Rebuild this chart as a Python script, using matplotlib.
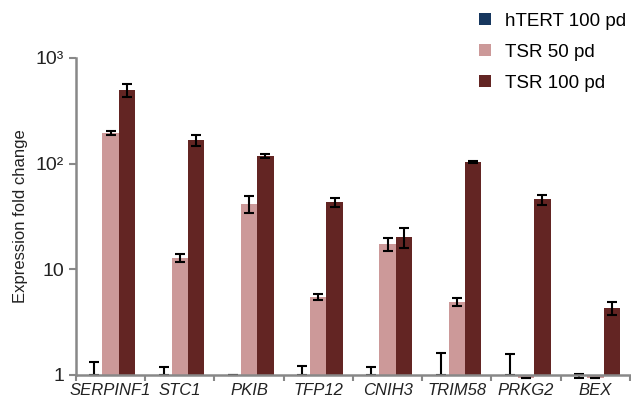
import numpy as np
import matplotlib
matplotlib.use("Agg")
import matplotlib.pyplot as plt
from matplotlib.ticker import FixedLocator, NullLocator, FixedFormatter

plt.rcParams['font.family'] = ['Liberation Sans', 'DejaVu Sans']

genes = ["SERPINF1", "STC1", "PKIB", "TFP12", "CNIH3", "TRIM58", "PRKG2", "BEX"]
series = ["hTERT 100 pd", "TSR 50 pd", "TSR 100 pd"]
colors = ["#17375E", "#CC9999", "#632523"]

# values (fold change, log scale)
htert = [1, 1, 1, 1, 1, 1, 1, 0.98]
htert_lo = [0, 0, 0, 0, 0, 0, 0, 0.05]
htert_hi = [0.33, 0.19, 0, 0.22, 0.19, 0.61, 0.58, 0.05]

tsr50 = [195, 12.8, 41.5, 5.5, 17.4, 4.9, 0.93, 0.93]
tsr50_err = [8, 1.2, 7.5, 0.35, 2.5, 0.4, 0, 0]

tsr100 = [500, 167, 118, 43, 20.2, 103.5, 46, 4.3]
tsr100_err = [70, 20, 5, 4, 4.3, 2, 5, 0.6]

fig = plt.figure(figsize=(6.31, 4.08), dpi=100)
ax = fig.add_axes([0.1204, 0.081, 0.878, 0.777])

x = np.arange(len(genes)) + 0.5
w = 0.235
vals = [htert, tsr50, tsr100]
errs = [[htert_lo, htert_hi], tsr50_err, tsr100_err]
for k in range(3):
    v = np.array(vals[k], dtype=float)
    xs = x + (k - 1) * w
    ax.bar(xs, v - 1, bottom=1, width=w, color=colors[k], label=series[k],
           clip_on=False, zorder=2)
    ax.errorbar(xs, v, yerr=errs[k], fmt="none", ecolor="black", elinewidth=1.5,
                capsize=3.5, capthick=1.5, clip_on=False, zorder=2.2)

ax.set_yscale("log")
ax.set_ylim(1, 1000)
ax.set_xlim(0, len(genes))
ax.yaxis.set_major_locator(FixedLocator([1, 10, 100, 1000]))
ax.yaxis.set_major_formatter(FixedFormatter(["1", "10", "10²", "10³"]))
ax.yaxis.set_minor_locator(NullLocator())

ax.set_xticks(np.arange(len(genes) + 1))
ax.set_xticklabels([])
ax.set_xticks(x, minor=True)
ax.set_xticklabels(genes, minor=True, fontstyle="italic", fontsize=12)
ax.tick_params(axis="x", which="minor", length=0, pad=6, colors="#222222")
ax.tick_params(axis="x", which="major", length=4, width=1.5, color="#888888")
ax.tick_params(axis="y", length=5, width=1.5, color="#888888", labelsize=14,
               labelcolor="#222222")

for s in ["top", "right"]:
    ax.spines[s].set_visible(False)
for s in ["left", "bottom"]:
    ax.spines[s].set_color("#888888")
    ax.spines[s].set_linewidth(1.8)
    ax.spines[s].set_zorder(2.5)

ax.set_ylabel("Expression fold change", fontsize=12, color="#222222", labelpad=6)

fig.legend(loc="upper left", bbox_to_anchor=(0.733, 1.01), frameon=False,
           fontsize=13.5, handlelength=0.6, handleheight=0.6, handletextpad=0.75,
           labelspacing=0.75)

fig.savefig("out.png", dpi=100)
